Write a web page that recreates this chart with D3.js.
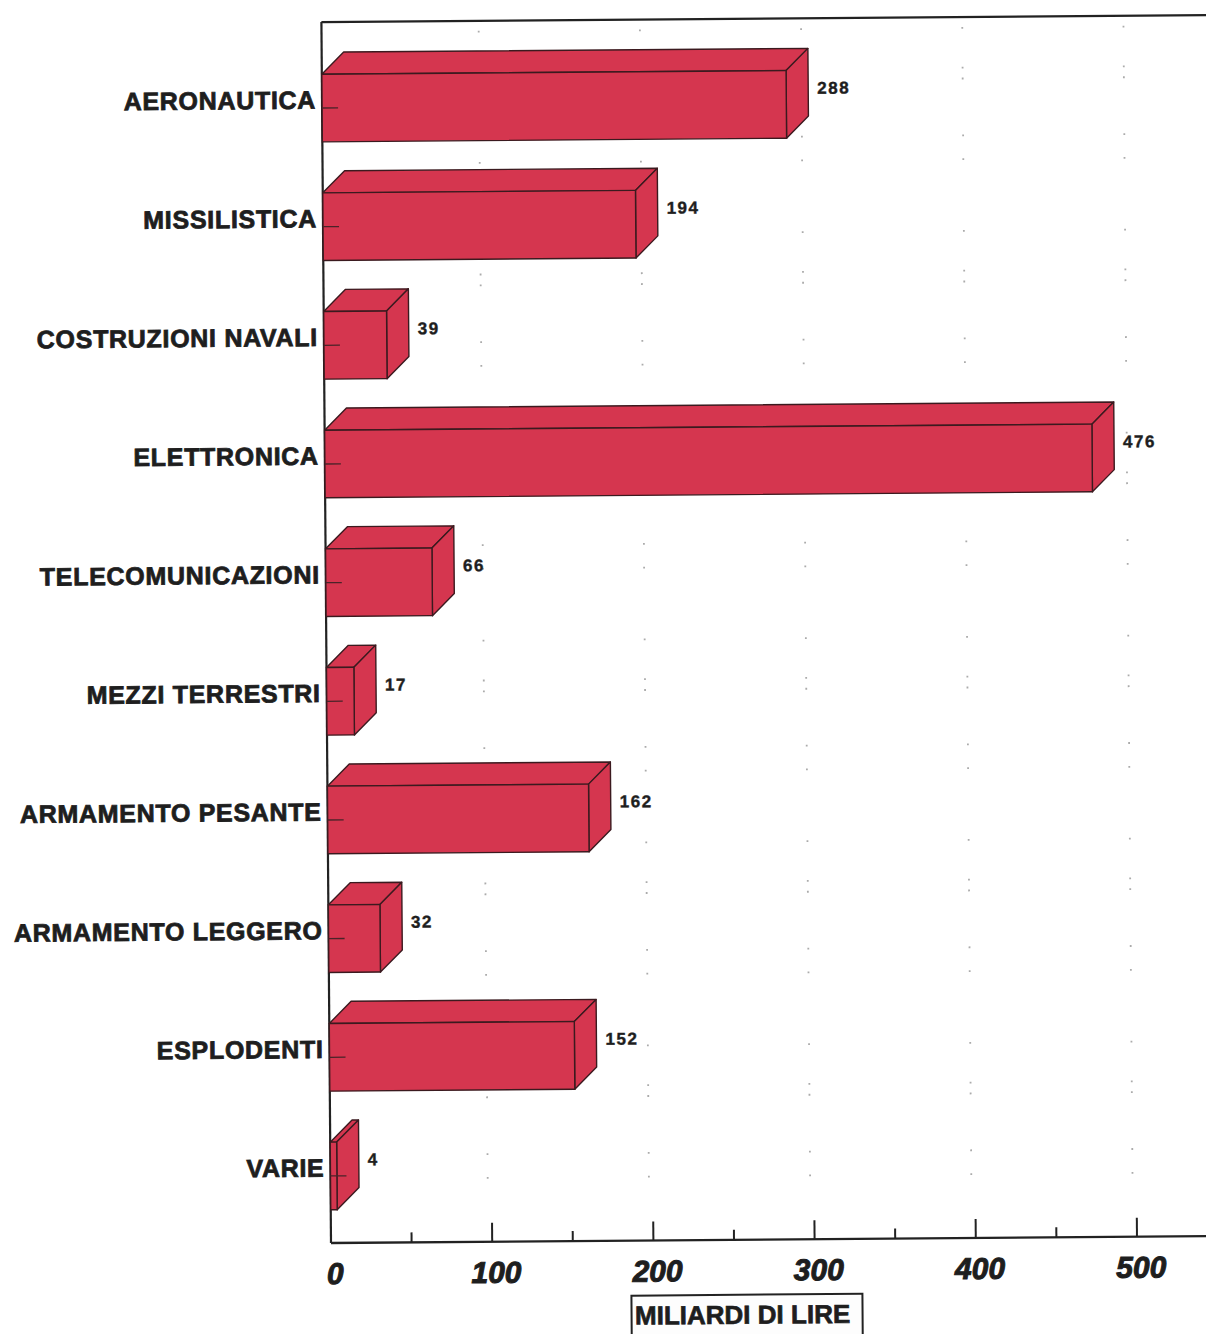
<!DOCTYPE html>
<html>
<head>
<meta charset="utf-8">
<script src="https://cdn.jsdelivr.net/npm/d3@7/dist/d3.min.js"></script>
<style>
  html, body { margin: 0; padding: 0; background: #ffffff; }
  svg { display: block; }
  text { font-family: "Liberation Sans", Arial, Helvetica, sans-serif; fill: #1e1e1e; }
</style>
</head>
<body>
<svg id="chart" width="1206" height="1334"></svg>
<script>
// Spesa per settore, miliardi di lire
const categories = [
  "AERONAUTICA",
  "MISSILISTICA",
  "COSTRUZIONI NAVALI",
  "ELETTRONICA",
  "TELECOMUNICAZIONI",
  "MEZZI TERRESTRI",
  "ARMAMENTO PESANTE",
  "ARMAMENTO LEGGERO",
  "ESPLODENTI",
  "VARIE"
];
const values = [288, 194, 39, 476, 66, 17, 162, 32, 152, 4];
const majorTicks = [0, 100, 200, 300, 400, 500];
const minorTicks = [50, 150, 250, 350, 450];
const axisTitle = "MILIARDI DI LIRE";

const svg = d3.select("#chart");

const x0 = 331, yBase = 1243, yTop = 22, xRight = 1240;
const depth = 22;          // oblique offset of the 3D bars
const barColor = "#d5364f";
const edgeColor = "#3b1a1f";

const x = d3.scaleLinear().domain([0, 500]).range([x0, x0 + 806]);
const y = d3.scaleBand()
  .domain(categories)
  .range([48.65, 1235.3])
  .paddingInner(0.43)
  .paddingOuter(0.215);

// whole figure sits slightly tilted on the page
const g = svg.append("g").attr("transform", `rotate(-0.45, ${x0}, ${yBase})`);

// faint dotted grid
const grid = g.append("g");
grid.selectAll("line")
  .data(majorTicks.slice(1))
  .join("line")
  .attr("x1", d => x(d) - 4).attr("x2", d => x(d) - 4)
  .attr("y1", yTop + 10).attr("y2", yBase - 20)
  .attr("stroke", "#8f8f8f")
  .attr("stroke-width", 1.8)
  .attr("stroke-dasharray", "1.8,38,1.8,9,1.8,55,1.8,22,1.8,70")
  .attr("opacity", 0.75);

// frame: top border and left axis
g.append("line")
  .attr("x1", x0).attr("x2", xRight).attr("y1", yTop).attr("y2", yTop)
  .attr("stroke", "#222").attr("stroke-width", 2.2);
g.append("line")
  .attr("x1", x0).attr("x2", x0).attr("y1", yTop).attr("y2", yBase)
  .attr("stroke", "#222").attr("stroke-width", 2.2);

// 3D bars
const bars = g.append("g").selectAll("g")
  .data(categories.map((c, i) => ({ c, v: values[i] })))
  .join("g");

bars.append("path") // top face
  .attr("d", d => {
    const t = y(d.c), xe = x(d.v);
    return `M${x0},${t} L${x0 + depth},${t - depth} L${xe + depth},${t - depth} L${xe},${t} Z`;
  })
  .attr("fill", barColor).attr("stroke", edgeColor).attr("stroke-width", 1.4)
  .attr("stroke-linejoin", "round");

bars.append("path") // side face
  .attr("d", d => {
    const t = y(d.c), b = t + y.bandwidth(), xe = x(d.v);
    return `M${xe},${t} L${xe + depth},${t - depth} L${xe + depth},${b - depth} L${xe},${b} Z`;
  })
  .attr("fill", barColor).attr("stroke", edgeColor).attr("stroke-width", 1.4)
  .attr("stroke-linejoin", "round");

bars.append("rect") // front face
  .attr("x", x0)
  .attr("y", d => y(d.c))
  .attr("width", d => x(d.v) - x0)
  .attr("height", y.bandwidth())
  .attr("fill", barColor).attr("stroke", edgeColor).attr("stroke-width", 1.4);

// value labels
bars.append("text")
  .attr("x", d => x(d.v) + depth + 9)
  .attr("y", d => y(d.c) + 19)
  .attr("dominant-baseline", "middle")
  .attr("font-size", 17)
  .attr("font-weight", "bold")
  .attr("letter-spacing", 1.5)
  .attr("stroke", "#1e1e1e").attr("stroke-width", 0.4)
  .text(d => d.v);

// category ticks on the left axis, drawn over the bars
g.append("g").selectAll("line")
  .data(categories)
  .join("line")
  .attr("x1", x0).attr("x2", x0 + 16)
  .attr("y1", d => y(d) + y.bandwidth() / 2)
  .attr("y2", d => y(d) + y.bandwidth() / 2)
  .attr("stroke", "#4a2328").attr("stroke-width", 1.3);

// category labels
g.append("g").selectAll("text")
  .data(categories)
  .join("text")
  .attr("x", x0 - 6)
  .attr("y", d => y(d) + y.bandwidth() / 2 - 6)
  .attr("text-anchor", "end")
  .attr("dominant-baseline", "middle")
  .attr("font-size", 25)
  .attr("font-weight", "bold")
  .attr("letter-spacing", 0.7)
  .attr("stroke", "#1e1e1e").attr("stroke-width", 0.8)
  .text(d => d);

// bottom axis with inward ticks
const xAxis = g.append("g");
xAxis.append("line")
  .attr("x1", x0).attr("x2", xRight).attr("y1", yBase).attr("y2", yBase)
  .attr("stroke", "#222").attr("stroke-width", 2.4);
xAxis.selectAll("line.major")
  .data(majorTicks.slice(1))
  .join("line").attr("class", "major")
  .attr("x1", d => x(d)).attr("x2", d => x(d))
  .attr("y1", yBase).attr("y2", yBase - 19)
  .attr("stroke", "#222").attr("stroke-width", 2);
xAxis.selectAll("line.minor")
  .data(minorTicks)
  .join("line").attr("class", "minor")
  .attr("x1", d => x(d)).attr("x2", d => x(d))
  .attr("y1", yBase).attr("y2", yBase - 10)
  .attr("stroke", "#222").attr("stroke-width", 2);
xAxis.selectAll("text")
  .data(majorTicks)
  .join("text")
  .attr("x", d => x(d) + 4)
  .attr("y", yBase + 41)
  .attr("text-anchor", "middle")
  .attr("font-size", 30)
  .attr("font-weight", "bold")
  .attr("font-style", "italic")
  .attr("stroke", "#1e1e1e").attr("stroke-width", 1)
  .text(d => d);

// axis title in a box
const tb = g.append("g");
tb.append("rect")
  .attr("x", 631).attr("y", 1298).attr("width", 231).attr("height", 60)
  .attr("fill", "#fdfdfd").attr("stroke", "#222").attr("stroke-width", 2);
tb.append("text")
  .attr("x", 742).attr("y", 1327)
  .attr("text-anchor", "middle")
  .attr("font-size", 26)
  .attr("font-weight", "bold")
  .attr("stroke", "#1e1e1e").attr("stroke-width", 0.7)
  .text(axisTitle);
</script>
</body>
</html>
